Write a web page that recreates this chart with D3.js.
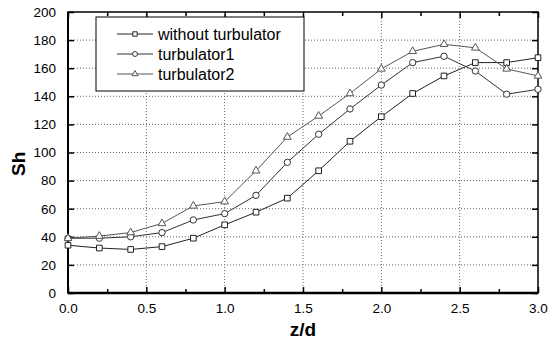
<!DOCTYPE html>
<html>
<head>
<meta charset="utf-8">
<script src="https://cdn.jsdelivr.net/npm/d3@7"></script>
<style>
  html, body { margin: 0; padding: 0; background: #fff; }
  svg { display: block; font-family: "Liberation Sans", Arial, sans-serif; }
</style>
</head>
<body>
<svg id="chart" width="557" height="343"></svg>
<script>
// Sherwood number along the axial position z/d
const zd = [0.0, 0.2, 0.4, 0.6, 0.8, 1.0, 1.2, 1.4, 1.6, 1.8, 2.0, 2.2, 2.4, 2.6, 2.8, 3.0];
const withoutTurbulator = [34, 32, 31, 33, 39, 48.5, 57.5, 67.5, 87, 108, 125.5, 142, 154.5, 164, 164, 167.5];
const turbulator1 = [39, 39, 40, 43, 52, 56.5, 69.5, 93, 113, 131, 148, 164, 168.5, 158, 141.5, 145];
const turbulator2 = [39, 40.5, 43, 49.5, 62, 65, 87, 111, 126, 142, 159.5, 172, 177, 174.5, 159.5, 154.5];
const seriesNames = ["without turbulator", "turbulator1", "turbulator2"];
const xTicks = [0.0, 0.5, 1.0, 1.5, 2.0, 2.5, 3.0];
const yTicks = [0, 20, 40, 60, 80, 100, 120, 140, 160, 180, 200];

const svg = d3.select("#chart");
const m = { left: 68, right: 538, top: 12, bottom: 293 };

const x = d3.scaleLinear().domain([0, 3]).range([m.left, m.right]);
const y = d3.scaleLinear().domain([0, 200]).range([m.bottom, m.top]);

// dotted grid
const grid = svg.append("g");
grid.selectAll("line.gx").data(xTicks.slice(1, -1)).join("line")
  .attr("x1", d => x(d)).attr("x2", d => x(d))
  .attr("y1", m.top).attr("y2", m.bottom)
  .attr("stroke", "#666").attr("stroke-width", 1).attr("stroke-dasharray", "1,2");
grid.selectAll("line.gy").data(yTicks.slice(1, -1)).join("line")
  .attr("x1", m.left).attr("x2", m.right)
  .attr("y1", d => y(d)).attr("y2", d => y(d))
  .attr("stroke", "#666").attr("stroke-width", 1).attr("stroke-dasharray", "1,2");

// axes with inward ticks
const minorX = d3.range(0.25, 3, 0.5);
function styleAxis(g) {
  g.select(".domain").remove();
  g.selectAll("line").attr("stroke", "#000").attr("stroke-width", 1.5);
}
const xBottom = svg.append("g").attr("transform", `translate(0,${m.bottom})`)
  .call(d3.axisBottom(x).tickValues(xTicks).tickSizeInner(-6).tickSizeOuter(0).tickPadding(10).tickFormat(d3.format(".1f")));
styleAxis(xBottom);
xBottom.selectAll("text").attr("font-size", 13.5).attr("fill", "#000");
svg.append("g").attr("transform", `translate(0,${m.bottom})`)
  .call(d3.axisBottom(x).tickValues(minorX).tickSize(-4).tickFormat(""))
  .call(styleAxis);

const xTop = svg.append("g").attr("transform", `translate(0,${m.top})`)
  .call(d3.axisTop(x).tickValues(xTicks).tickSize(-6).tickFormat(""));
styleAxis(xTop);
svg.append("g").attr("transform", `translate(0,${m.top})`)
  .call(d3.axisTop(x).tickValues(minorX).tickSize(-4).tickFormat(""))
  .call(styleAxis);

const yLeft = svg.append("g").attr("transform", `translate(${m.left},0)`)
  .call(d3.axisLeft(y).tickValues(yTicks).tickSizeInner(-6).tickSizeOuter(0).tickPadding(12));
styleAxis(yLeft);
yLeft.selectAll("text").attr("font-size", 13.5).attr("fill", "#000");
svg.append("g").attr("transform", `translate(${m.right},0)`)
  .call(d3.axisRight(y).tickValues(yTicks).tickSize(-6).tickFormat(""))
  .call(styleAxis);

// frame
svg.append("rect")
  .attr("x", m.left).attr("y", m.top)
  .attr("width", m.right - m.left).attr("height", m.bottom - m.top)
  .attr("fill", "none").attr("stroke", "#000").attr("stroke-width", 1.5);
svg.append("line").attr("x1", m.left).attr("x2", m.right)
  .attr("y1", m.bottom).attr("y2", m.bottom).attr("stroke", "#000").attr("stroke-width", 2.5);
svg.append("line").attr("x1", m.left).attr("x2", m.left)
  .attr("y1", m.top).attr("y2", m.bottom).attr("stroke", "#000").attr("stroke-width", 2);

// axis titles
svg.append("text").attr("x", x(1.5)).attr("y", 336)
  .attr("text-anchor", "middle").attr("font-size", 19).attr("font-weight", "bold").text("z/d");
svg.append("text").attr("transform", `translate(25,${y(92)}) rotate(-90)`)
  .attr("text-anchor", "middle").attr("font-size", 19).attr("font-weight", "bold").text("Sh");

// series
const series = [
  { name: seriesNames[0], values: withoutTurbulator, shape: d3.symbolSquare, size: 32, color: "#222" },
  { name: seriesNames[1], values: turbulator1, shape: d3.symbolCircle, size: 32, color: "#333" },
  { name: seriesNames[2], values: turbulator2, shape: d3.symbolTriangle, size: 26, color: "#555" }
];
const line = d3.line().x(d => x(d[0])).y(d => y(d[1]));
series.forEach(s => {
  const pts = zd.map((v, i) => [v, s.values[i]]);
  svg.append("path").datum(pts).attr("d", line)
    .attr("fill", "none").attr("stroke", s.color).attr("stroke-width", 1);
  svg.append("g").selectAll("path").data(pts).join("path")
    .attr("transform", d => `translate(${x(d[0])},${y(d[1])})`)
    .attr("d", d3.symbol().type(s.shape).size(s.size))
    .attr("fill", "#fff").attr("stroke", s.color).attr("stroke-width", 1);
});

// legend
const lg = svg.append("g");
lg.append("rect").attr("x", 96).attr("y", 17).attr("width", 208).attr("height", 74)
  .attr("fill", "#fff").attr("stroke", "#000").attr("stroke-width", 1);
series.forEach((s, i) => {
  const ly = 34 + i * 20;
  lg.append("line").attr("x1", 117).attr("x2", 153).attr("y1", ly).attr("y2", ly)
    .attr("stroke", s.color).attr("stroke-width", 1);
  lg.append("path").attr("transform", `translate(135,${ly})`)
    .attr("d", d3.symbol().type(s.shape).size(s.size * 0.6))
    .attr("fill", "#fff").attr("stroke", s.color).attr("stroke-width", 1);
  lg.append("text").attr("x", 158).attr("y", ly + 6).attr("font-size", 16).text(s.name);
});
</script>
</body>
</html>
